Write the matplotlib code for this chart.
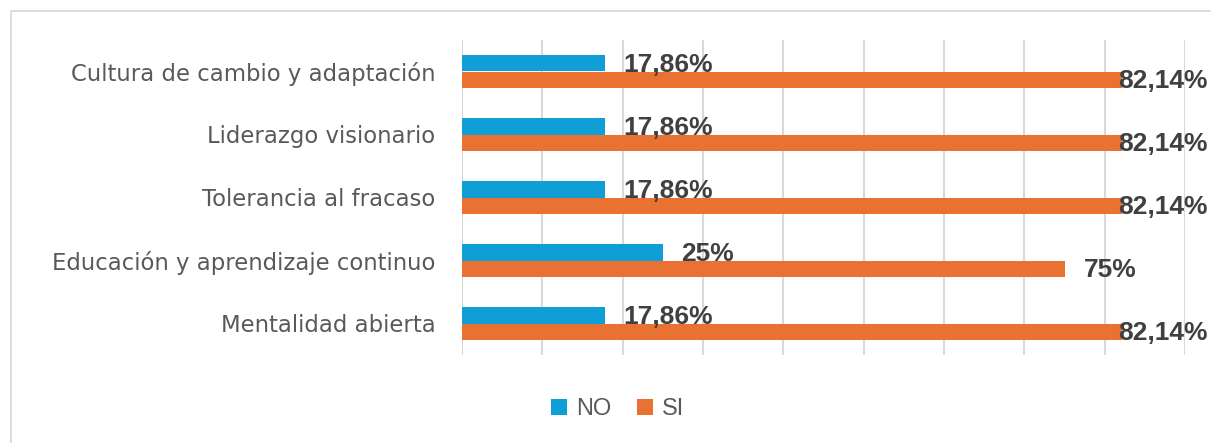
import numpy as np
import matplotlib.pyplot as plt
from matplotlib.lines import Line2D

categorias = ["Cultura de cambio y adaptación", "Liderazgo visionario",
              "Tolerancia al fracaso", "Educación y aprendizaje continuo",
              "Mentalidad abierta"]
no_vals = [0.1786, 0.1786, 0.1786, 0.25, 0.1786]
si_vals = [0.8214, 0.8214, 0.8214, 0.75, 0.8214]
no_labels = ["17,86%", "17,86%", "17,86%", "25%", "17,86%"]
si_labels = ["82,14%", "82,14%", "82,14%", "75%", "82,14%"]

azul = "#0F9ED5"
naranja = "#E97132"
plt.rcParams['font.family'] = ['DejaVu Sans']

fig = plt.figure(figsize=(12.11, 4.43), dpi=100)
ax = fig.add_axes([462 / 1211, 1 - 355 / 443, (1185 - 462) / 1211, 315 / 443])

# borde del area del grafico (solo izquierda y arriba quedan dentro de la imagen)
bx, by = 11 / 1211, 1 - 11 / 443
fig.add_artist(Line2D([bx, bx, 1.0], [0.0, by, by], transform=fig.transFigure,
                      color="#D9D9D9", lw=1.3, zorder=0))

y = np.arange(len(categorias))
h = 0.254
ax.barh(y - h / 2, no_vals, height=h, color=azul, label="NO", zorder=3)
ax.barh(y + h / 2, si_vals, height=h, color=naranja, label="SI", zorder=3)

etiqueta = dict(ha="left", va="center", fontsize=19, fontweight="bold", color="#404040",
                family="Liberation Sans", zorder=4, textcoords="offset points")
for i in range(len(categorias)):
    ax.annotate(no_labels[i], (no_vals[i], y[i] - h / 2), xytext=(13, -1), **etiqueta)
    dx = -3 if si_vals[i] > 0.8 else 14
    ax.annotate(si_labels[i], (si_vals[i], y[i] + h / 2), xytext=(dx, -1), **etiqueta)

ax.set_xlim(0, 0.9)
ax.set_xticks(np.arange(0, 0.91, 0.1))
ax.set_xticklabels([])
ax.set_ylim(len(categorias) - 0.5, -0.5)
ax.set_yticks(y)
ax.set_yticklabels(categorias, fontsize=16.4, color="#595959")
ax.tick_params(axis="both", length=0)
ax.tick_params(axis="y", pad=19)
ax.grid(axis="x", color="#D9D9D9", lw=1.5, zorder=0)
for s in ax.spines.values():
    s.set_visible(False)

fig.legend(loc="center", bbox_to_anchor=(618 / 1211, 1 - 409 / 443), ncol=2, frameon=False,
           prop={"family": "Liberation Sans", "size": 17}, handlelength=0.65, handleheight=0.65,
           handletextpad=0.4, columnspacing=1.1, labelcolor="#595959")

fig.savefig("out.png", dpi=100)
